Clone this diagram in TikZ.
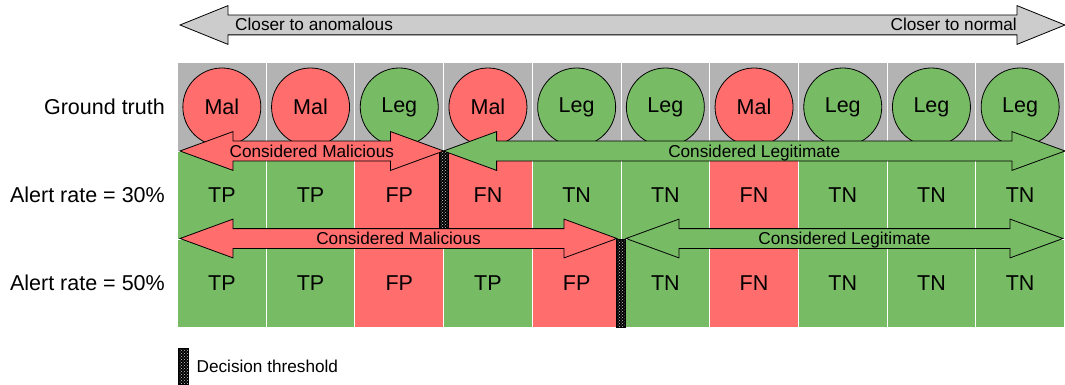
\documentclass[tikz,border=0pt]{standalone}
\usepackage{fontspec}
\setmainfont{Liberation Sans}
\usetikzlibrary{shapes.arrows, positioning, patterns}

\definecolor{malred}{HTML}{FF6D6D}
\definecolor{leggreen}{HTML}{77BC65}
\definecolor{truthgray}{HTML}{B3B3B3}
\definecolor{scalegray}{HTML}{CCCCCC}

\newcommand{\bigtext}{\fontsize{21.5}{25}\selectfont}
\newcommand{\smalltext}{\fontsize{17.2}{20}\selectfont}

\tikzset{
  cell/.style={rectangle, draw=white, line width=1pt, minimum width=88.7pt,
    minimum height=88pt, inner sep=0pt, outer sep=0pt, font=\bigtext},
  verdict/.style={circle, draw=black, line width=0.8pt, minimum size=78pt,
    inner sep=0pt, font=\bigtext},
  rowlabel/.style={inner sep=0pt, font=\bigtext},
  band/.style={double arrow, draw=black, line width=0.8pt, inner xsep=0pt,
    inner ysep=0pt, text height=15.65pt, text depth=3.35pt,
    double arrow head extend=9.5pt, double arrow tip angle=40.2, font=\smalltext},
  threshold/.style={rectangle, draw=black, line width=0.8pt, minimum width=9pt,
    inner sep=0pt, preaction={fill=black}, pattern=crosshatch dots,
    pattern color=white!80!black},
}

\begin{document}
\begin{tikzpicture}[x=1pt, y=-1pt]
\useasboundingbox (0,0) rectangle (1065,385);

% scale on top
\node[double arrow, draw=black, line width=0.8pt, fill=scalegray, inner sep=0pt,
  inner ysep=9.5pt, minimum height=885pt, double arrow head extend=9.5pt,
  double arrow tip angle=44] (scale) at (622.5,25) {};
\node[anchor=west, inner sep=0pt, font=\smalltext] (anomalous) at (235,24.5) {Closer to anomalous};
\node[anchor=east, inner sep=0pt, font=\smalltext] (normal) at (1017,24.5) {Closer to normal};

% ground truth
\foreach \lab/\col [count=\i] in {Mal/malred,Mal/malred,Leg/leggreen,Mal/malred,Leg/leggreen,
    Leg/leggreen,Mal/malred,Leg/leggreen,Leg/leggreen,Leg/leggreen}{
  \node[cell, fill=truthgray] (g\i) at ({177.5+88.7*(\i-0.5)},107) {};
  \node[verdict, fill=\col] (c\i) at (g\i) {\lab};
}

% alert rate 30%
\foreach \lab/\col [count=\i] in {TP/leggreen,TP/leggreen,FP/malred,FN/malred,TN/leggreen,
    TN/leggreen,FN/malred,TN/leggreen,TN/leggreen,TN/leggreen}
  \node[cell, fill=\col, below=0pt of g\i] (a\i) {\lab};

% alert rate 50%
\foreach \lab/\col [count=\i] in {TP/leggreen,TP/leggreen,FP/malred,TP/leggreen,FP/malred,
    TN/leggreen,FN/malred,TN/leggreen,TN/leggreen,TN/leggreen}
  \node[cell, fill=\col, below=0pt of a\i] (b\i) {\lab};

\node[threshold, minimum height=88pt] (cut30) at (a3.east) {};
\node[threshold, minimum height=88pt] (cut50) at (b5.east) {};

\node[band, fill=malred, minimum height=263.6pt] (mal30) at (311.8,151) {Considered Malicious};
\node[band, fill=leggreen, minimum height=621.4pt] (leg30) at (754.3,151) {Considered Legitimate};
\node[band, fill=malred, minimum height=437pt] (mal50) at (398.5,238.5) {Considered Malicious};
\node[band, fill=leggreen, minimum height=437pt] (leg50) at (844.5,238.5) {Considered Legitimate};

\node[rowlabel, left=12.5pt of g1] (truth) {Ground truth};
\node[rowlabel, left=12.5pt of a1] (rate30) {Alert rate = 30\%};
\node[rowlabel, left=12.5pt of b1] (rate50) {Alert rate = 50\%};

% legend
\node[threshold, minimum width=10pt, minimum height=36pt] (key) at (183.5,366.5) {};
\node[right=7.5pt of key, inner sep=0pt, font=\smalltext] (keytext) {Decision threshold};
\end{tikzpicture}
\end{document}
